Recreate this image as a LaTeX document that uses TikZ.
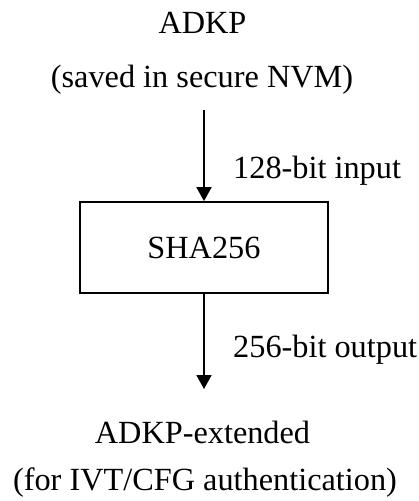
\documentclass[tikz,border=0pt]{standalone}
\usepackage{fontspec}
\setmainfont{Liberation Serif}
\usetikzlibrary{arrows.meta}
\begin{document}
\begin{tikzpicture}[x=1pt,y={(0pt,-1pt)},
  txt/.style={font=\fontsize{32.3}{38}\selectfont, inner sep=0pt, anchor=base},
  lbl/.style={font=\fontsize{32.3}{38}\selectfont, inner sep=0pt, anchor=base west},
  boxnode/.style={draw, line width=1.8pt, minimum width=248pt, minimum height=91pt, inner sep=0pt, font=\fontsize{32.3}{38}\selectfont},
  arr/.style={line width=1.8pt, -{Triangle[length=14pt,width=15pt]}}]
\useasboundingbox (0,0) rectangle (418,501);
\node[txt] (adkp) at (202.5,33) {ADKP};
\node[txt] (saved) at (202,87) {(saved in secure NVM)};
\coordinate (a1) at (204,110);
\node[boxnode] (sha) at (204,247.5) {SHA256};
\node[lbl] (in) at (233,178) {128-bit input};
\draw[arr] (a1) -- (sha.north);
\coordinate (a2) at (204,389);
\draw[arr] (sha.south) -- (a2);
\node[lbl] (out) at (233,357) {256-bit output};
\node[txt] (ext) at (202.5,443) {ADKP-extended};
\node[txt] (for) at (205,490) {(for IVT/CFG authentication)};
\end{tikzpicture}
\end{document}
